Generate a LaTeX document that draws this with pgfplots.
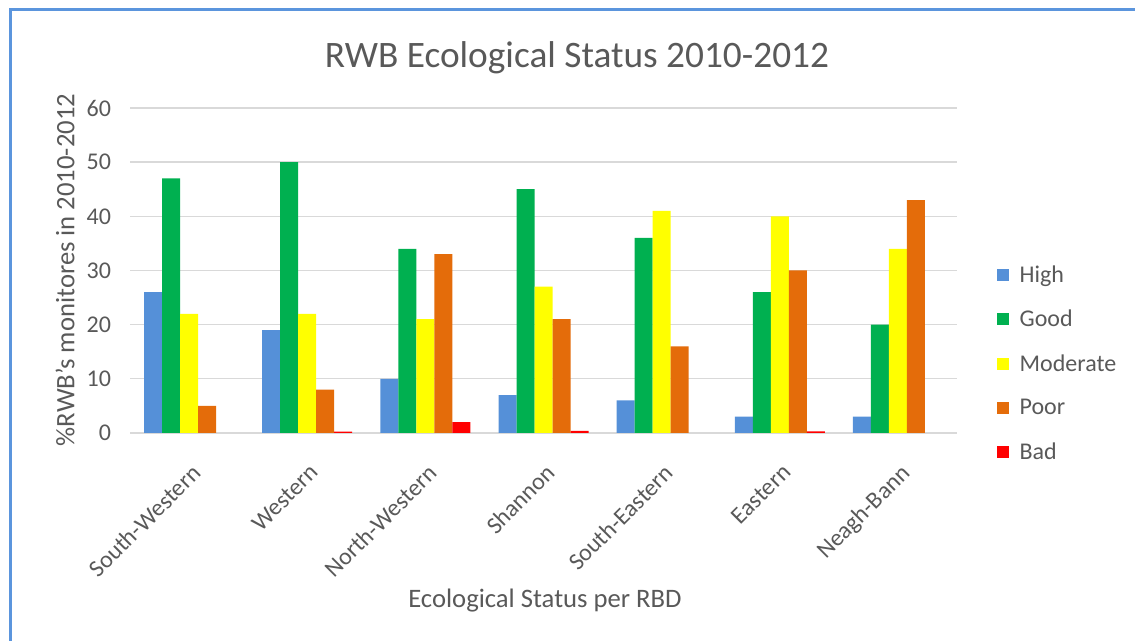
\documentclass[border=0pt]{standalone}
\usepackage{pgfplots}
\pgfplotsset{compat=1.18}
\usepackage{fontspec}
\setmainfont{Carlito}
\definecolor{txt}{HTML}{595959}
\definecolor{gridc}{HTML}{D9D9D9}
\definecolor{cHigh}{HTML}{5590D8}
\definecolor{cGood}{HTML}{00B050}
\definecolor{cMod}{HTML}{FFFF00}
\definecolor{cPoor}{HTML}{E46C0A}
\definecolor{cBad}{HTML}{FF0000}
\definecolor{frame}{HTML}{5B95DD}
\begin{document}
\begin{tikzpicture}
\useasboundingbox (0pt,0pt) rectangle (851.25pt,480.75pt);
\draw[frame, line width=2.25pt] (7.5pt,0pt) -- (7.5pt,473.25pt) -- (851.25pt,473.25pt);
\node[txt, font=\fontsize{28}{32}\selectfont, anchor=base] at (432.75pt,429.75pt) {RWB Ecological Status 2010-2012};
\node[txt, font=\fontsize{20}{24}\selectfont, anchor=base] at (408.75pt,24.75pt) {Ecological Status per RBD};
\node[txt, font=\fontsize{20}{24}\selectfont, rotate=90] at (48.75pt,278.25pt) {\%RWB's monitores in 2010-2012};
\begin{axis}[
  at={(97.5pt,156pt)}, anchor=south west,
  width=620.25pt, height=243.75pt, scale only axis,
  ybar=0pt, bar width=13.5pt,
  xmin=-0.5, xmax=6.5, ymin=0, ymax=60,
  ytick={0,10,...,60},
  xtick={0,...,6},
  xticklabels={South-Western,Western,North-Western,Shannon,South-Eastern,Eastern,Neagh-Bann},
  xticklabel style={rotate=45, anchor=north east, font=\fontsize{18}{22}\selectfont, text=txt, inner sep=1pt, yshift=-15.5pt, xshift=-14pt},
  yticklabel style={font=\fontsize{18}{22}\selectfont, text=txt, inner sep=0pt, xshift=-14pt},
  /pgf/number format/assume math mode=true,
  major tick length=0pt,
  axis line style={draw=none},
  ymajorgrids, grid style={draw=gridc, line width=1pt},
  legend style={at={(1.048,0.214)}, anchor=west, draw=none, fill=none,
    font=\fontsize{18}{22}\selectfont, text=txt, row sep=15.5pt, inner sep=0pt,
    /tikz/every odd column/.style={column sep=6pt}},
  legend cell align=left,
  legend image code/.code={\fill[#1] (0pt,-4.5pt) rectangle (9pt,4.5pt);},
]
\addplot[fill=cHigh, draw=none] coordinates {(0,26) (1,19) (2,10) (3,7) (4,6) (5,3) (6,3)};
\addplot[fill=cGood, draw=none] coordinates {(0,47) (1,50) (2,34) (3,45) (4,36) (5,26) (6,20)};
\addplot[fill=cMod, draw=none] coordinates {(0,22) (1,22) (2,21) (3,27) (4,41) (5,40) (6,34)};
\addplot[fill=cPoor, draw=none] coordinates {(0,5) (1,8) (2,33) (3,21) (4,16) (5,30) (6,43)};
\addplot[fill=cBad, draw=none] coordinates {(1,0.25) (2,2) (3,0.4) (5,0.3)};
\legend{High,Good,Moderate,Poor,Bad}
\end{axis}
\end{tikzpicture}
\end{document}
